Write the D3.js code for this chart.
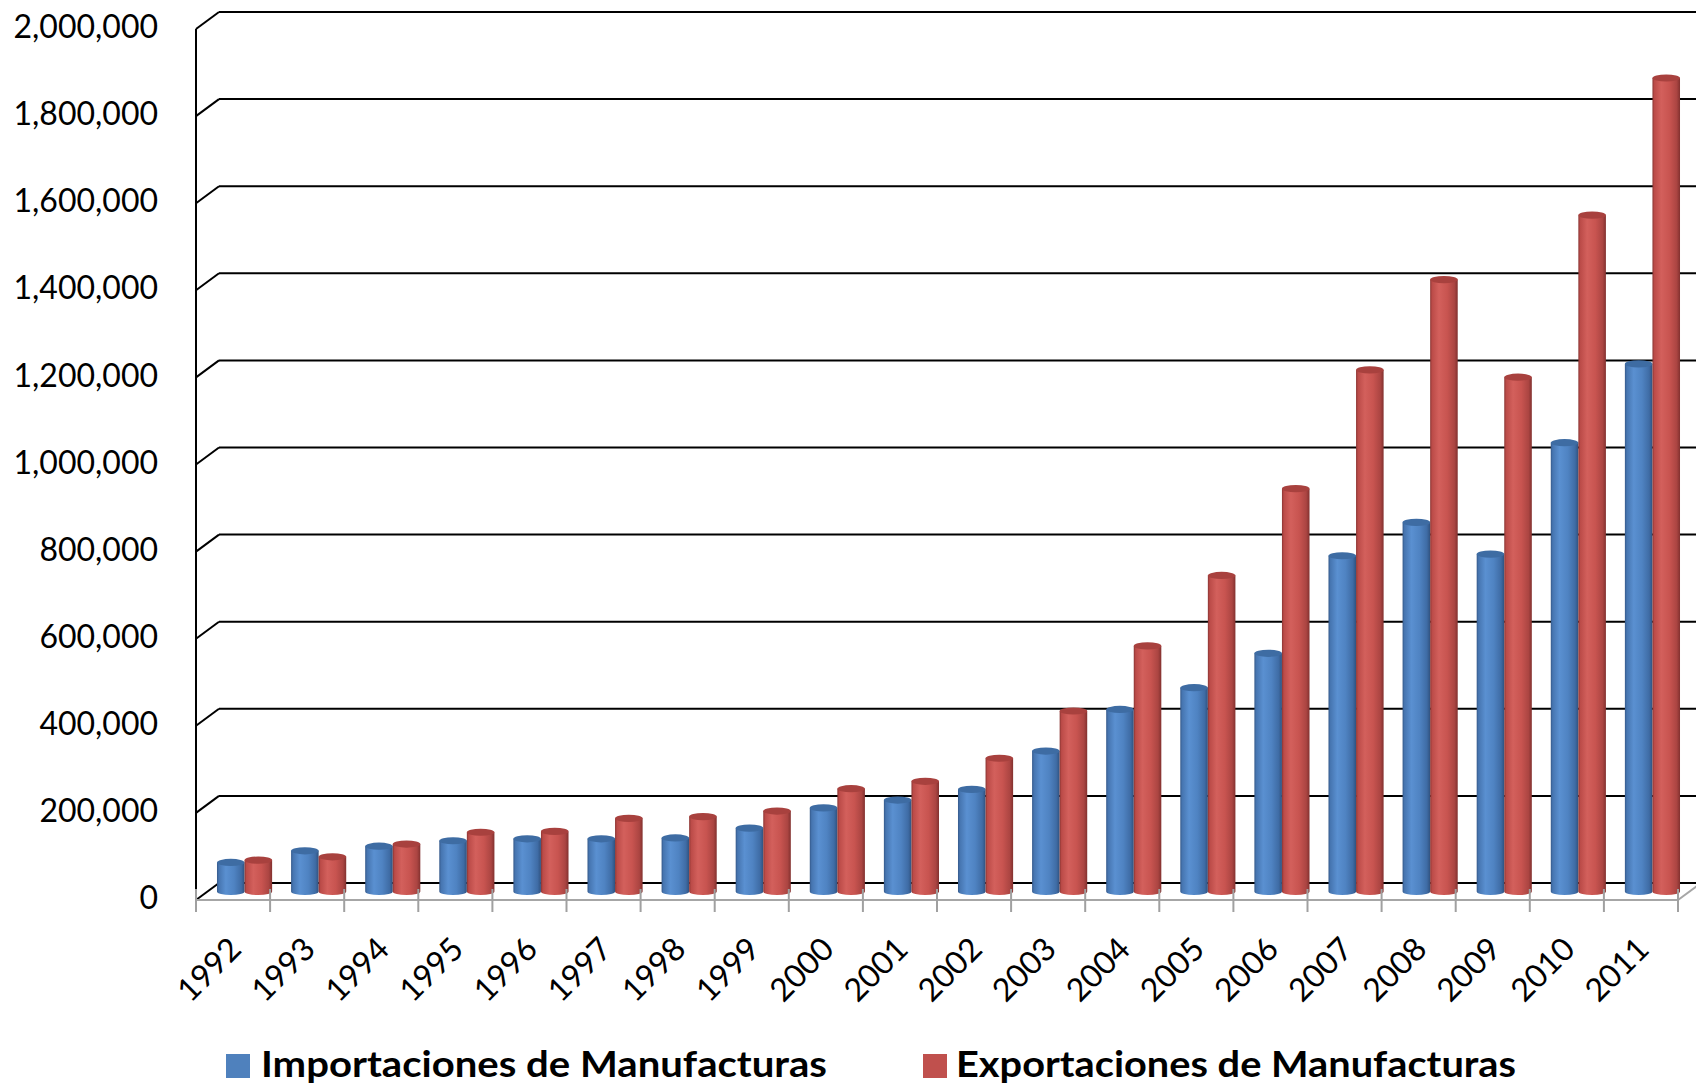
<!DOCTYPE html>
<html>
<head>
<meta charset="utf-8">
<script src="https://cdn.jsdelivr.net/npm/d3@7"></script>
<style>
  html, body { margin: 0; padding: 0; background: #fff; }
  svg { display: block; }
  text { font-family: Lato, "Open Sans", sans-serif; }
</style>
</head>
<body>
<svg id="chart" width="1696" height="1086"></svg>
<script>
const years = ["1992","1993","1994","1995","1996","1997","1998","1999","2000","2001",
               "2002","2003","2004","2005","2006","2007","2008","2009","2010","2011"];
const seriesNames = ["Importaciones de Manufacturas", "Exportaciones de Manufacturas"];
const importaciones = [66700, 93500, 104000, 116500, 121000, 121000, 123000, 145600, 192000, 210000,
                       234500, 322500, 418000, 468000, 547000, 771000, 847500, 774700, 1030600, 1211500];
const exportaciones = [72000, 79700, 109000, 136000, 138000, 168000, 172000, 184700, 236000, 253000,
                       306000, 414500, 564000, 725700, 925000, 1197700, 1405000, 1181000, 1553000, 1868000];
const yTicks = [0, 200000, 400000, 600000, 800000, 1000000, 1200000, 1400000, 1600000, 1800000, 2000000];

const svg = d3.select("#chart");
const W = 1696, H = 1086;
svg.append("rect").attr("width", W).attr("height", H).attr("fill", "#fff");

// Geometry
const left = 196, right = 1678, front0 = 900, front2M = 29;
const depthX = 23, depthY = -17;
const midX = depthX / 2, midY = depthY / 2;

const x = d3.scaleBand().domain(years).range([left, right]).paddingInner(0.256).paddingOuter(0.128);
const xSub = d3.scaleBand().domain(seriesNames).range([0, x.bandwidth()]);
const y = d3.scaleLinear().domain([0, 2000000]).range([front0, front2M]);
const fmt = d3.format(",");

const defs = svg.append("defs");
function grad(id, stops) {
  const g = defs.append("linearGradient").attr("id", id)
    .attr("x1", "0%").attr("x2", "100%").attr("y1", "0%").attr("y2", "0%");
  stops.forEach(s => g.append("stop").attr("offset", s[0]).attr("stop-color", s[1]));
}
grad("gBlue", [["0%", "#35598a"], ["7%", "#4675b0"], ["32%", "#5a90d1"], ["62%", "#4f83c2"], ["88%", "#3f6ca5"], ["100%", "#30527f"]]);
grad("gRed", [["0%", "#8a3533"], ["7%", "#bb4b48"], ["32%", "#d3605c"], ["62%", "#c85450"], ["88%", "#ab4542"], ["100%", "#82312f"]]);
const colors = {
  [seriesNames[0]]: { body: "url(#gBlue)", top: "#3e6ca3", legend: "#4f81bd" },
  [seriesNames[1]]: { body: "url(#gRed)", top: "#a8413e", legend: "#c0504d" }
};

// Gridlines on back wall + left wall diagonals
const grid = svg.append("g");
yTicks.forEach(t => {
  const yf = y(t);
  grid.append("line")
    .attr("x1", left + depthX).attr("x2", right + depthX + 40)
    .attr("y1", yf + depthY).attr("y2", yf + depthY)
    .attr("stroke", "#000").attr("stroke-width", 2);
  grid.append("line")
    .attr("x1", left).attr("y1", yf)
    .attr("x2", left + depthX).attr("y2", yf + depthY)
    .attr("stroke", "#000").attr("stroke-width", 2);
});
// vertical axis line
grid.append("line").attr("x1", left).attr("x2", left)
  .attr("y1", y(2000000)).attr("y2", y(0))
  .attr("stroke", "#000").attr("stroke-width", 2);

// Floor front edge (gray)
grid.append("line").attr("x1", left).attr("x2", right)
  .attr("y1", front0).attr("y2", front0)
  .attr("stroke", "#a6a6a6").attr("stroke-width", 2);
grid.append("line").attr("x1", right).attr("y1", front0)
  .attr("x2", right + depthX).attr("y2", front0 + depthY)
  .attr("stroke", "#a6a6a6").attr("stroke-width", 2);

// Y axis labels
svg.append("g").selectAll("text").data(yTicks).join("text")
  .attr("x", 158).attr("y", d => y(d) + 1)
  .attr("text-anchor", "end").attr("dominant-baseline", "middle")
  .attr("font-size", 32).attr("fill", "#000")
  .text(d => fmt(d));

// Bars (cylinders)
const rows = years.map((yr, i) => ({ year: yr, vals: [importaciones[i], exportaciones[i]] }));
const ry = 3.6;
const bars = svg.append("g");
rows.forEach(r => {
  seriesNames.forEach((s, k) => {
    const v = r.vals[k];
    const bx = x(r.year) + xSub(s) + midX;
    const rx = xSub.bandwidth() / 2;
    const cx = bx + rx;
    const yBase = y(0) + midY;
    const yTop = y(v) + midY;
    const p = `M${cx - rx},${yTop} L${cx - rx},${yBase} A${rx},${ry} 0 0 0 ${cx + rx},${yBase} L${cx + rx},${yTop} Z`;
    bars.append("path").attr("d", p).attr("fill", colors[s].body);
    bars.append("ellipse").attr("cx", cx).attr("cy", yTop).attr("rx", rx).attr("ry", ry)
      .attr("fill", colors[s].top);
  });
});

// Ticks on x axis
const tickPos = d3.range(years.length + 1).map(i => left + i * x.step());
svg.append("g").selectAll("line").data(tickPos).join("line")
  .attr("x1", d => d).attr("x2", d => d)
  .attr("y1", front0 - 11).attr("y2", front0 + 12)
  .attr("stroke", "#a0a0a0").attr("stroke-width", 2);

// X labels rotated
svg.append("g").selectAll("text").data(years).join("text")
  .attr("transform", d => `translate(${x(d) + x.bandwidth() / 2 + 10},951) rotate(-45)`)
  .attr("text-anchor", "end").attr("font-size", 32).attr("fill", "#000")
  .text(d => d);

// Legend
const legendItems = [
  { name: seriesNames[0], sx: 226, tx: 261, len: 566 },
  { name: seriesNames[1], sx: 923, tx: 956, len: 560 }
];
const lg = svg.append("g");
legendItems.forEach(it => {
  lg.append("rect").attr("x", it.sx).attr("y", 1054).attr("width", 24).attr("height", 24)
    .attr("fill", colors[it.name].legend);
  lg.append("text").attr("x", it.tx).attr("y", 1077)
    .attr("font-size", 36).attr("font-weight", "bold").attr("fill", "#000")
    .attr("textLength", it.len).attr("lengthAdjust", "spacingAndGlyphs")
    .text(it.name);
});
</script>
</body>
</html>
